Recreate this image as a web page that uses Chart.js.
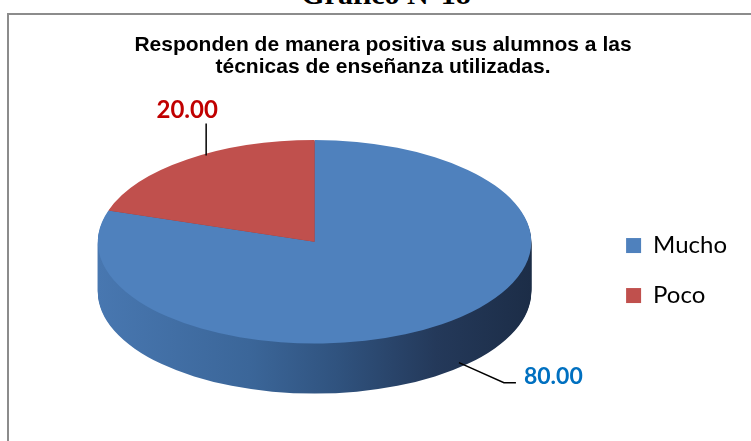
<!DOCTYPE html>
<html lang="es">
<head>
<meta charset="UTF-8">
<title>Gráfico N°18</title>
<script src="https://cdn.jsdelivr.net/npm/chart.js"></script>
<style>
  html, body { margin: 0; padding: 0; background: #fff; overflow: hidden; }
  #page { position: relative; width: 751px; height: 441px; overflow: hidden; }
  #heading { position: absolute; left: 0; width: 772px; top: -21px; text-align: center;
             font: bold 30px/30px "Liberation Serif", "Times New Roman", serif; color: #000; }
  #frame { position: absolute; left: 7px; top: 13px; right: -10px; bottom: -10px;
           border-top: 2px solid #8c8c8c; border-left: 2px solid #8c8c8c; }
  #chart { position: absolute; left: 0; top: 0; }
</style>
</head>
<body>
<div id="page">
  <div id="heading">Gráfico N°18</div>
  <div id="frame"></div>
  <canvas id="chart" width="751" height="441"></canvas>
</div>

<script>
// datos del gráfico
const categories = ['Mucho', 'Poco'];
const values = [80, 20];
const chartTitle = ['Responden de manera positiva sus alumnos a las', 'técnicas de enseñanza utilizadas.'];

// colores
const sliceColors = ['#4f81bd', '#c0504d'];
const sideColors = ['#3a6296', '#8e3a38'];
const labelColors = ['#0070c0', '#c00000'];

// efecto 3D: la elipse es mas ancha que alta, y tiene un grosor
const tilt = 2.13;
const depth = 50;

// el pastel queda centrado en x y pegado arriba del area del grafico
function pieFrame(chart) {
  const arc = chart.getDatasetMeta(0).data[0];
  const r = arc.outerRadius;
  const area = chart.chartArea;
  return { x: arc.x, y: area.top + r, r: r, rx: r * tilt, ox: arc.x, oy: arc.y };
}

const pie3d = {
  id: 'pie3d',
  beforeDatasetsDraw(chart) {
    const ctx = chart.ctx;
    const meta = chart.getDatasetMeta(0);
    const p = pieFrame(chart);
    ctx.save();
    ctx.translate(p.x, p.y);
    ctx.scale(tilt, 1);
    ctx.translate(-p.ox, -p.oy);

    // lateral del cilindro, mas oscuro a la derecha
    const grad = ctx.createLinearGradient(p.ox - p.r, 0, p.ox + p.r, 0);
    grad.addColorStop(0, '#4877b0');
    grad.addColorStop(0.35, '#3b6699');
    grad.addColorStop(0.55, '#30537f');
    grad.addColorStop(0.78, '#24395a');
    grad.addColorStop(1, '#1c2d47');

    for (let i = depth; i > 0; i--) {
      meta.data.forEach((arc, k) => {
        ctx.beginPath();
        ctx.moveTo(arc.x, arc.y + i);
        ctx.arc(arc.x, arc.y + i, arc.outerRadius, arc.startAngle, arc.endAngle);
        ctx.closePath();
        ctx.fillStyle = k === 0 ? grad : sideColors[k];
        ctx.fill();
      });
    }
  },
  afterDatasetsDraw(chart) {
    const ctx = chart.ctx;
    ctx.restore();

    // etiquetas de valores con linea guia
    const meta = chart.getDatasetMeta(0);
    const p = pieFrame(chart);
    ctx.save();
    ctx.strokeStyle = '#000';
    ctx.lineWidth = 1.5;
    meta.data.forEach((arc, k) => {
      const mid = (arc.startAngle + arc.endAngle) / 2;
      const front = Math.sin(mid) > 0;
      const ax = p.x + p.rx * Math.cos(mid);
      const ay = p.y + p.r * Math.sin(mid) + (front ? depth : 0);
      const text = values[k].toFixed(2);
      ctx.fillStyle = labelColors[k];
      ctx.beginPath();
      if (front) {
        ctx.font = 'bold 23px Lato';
        ctx.moveTo(ax + 17, ay - 11.5);
        ctx.lineTo(ax + 62, ay + 8.5);
        ctx.lineTo(ax + 74, ay + 8.5);
        ctx.stroke();
        ctx.textAlign = 'left';
        ctx.textBaseline = 'alphabetic';
        ctx.fillText(text, ax + 82, ay + 9.5);
      } else {
        ctx.font = 'bold 24px Lato';
        ctx.moveTo(ax + 19, ay - 4);
        ctx.lineTo(ax + 19, ay - 36);
        ctx.stroke();
        ctx.textAlign = 'center';
        ctx.textBaseline = 'alphabetic';
        ctx.fillText(text, ax, ay - 42);
      }
    });
    ctx.restore();
  }
};

new Chart(document.getElementById('chart'), {
  type: 'pie',
  data: {
    labels: categories,
    datasets: [{
      data: values,
      backgroundColor: sliceColors,
      borderWidth: 0,
      radius: '78%',
      clip: false
    }]
  },
  options: {
    responsive: false,
    animation: false,
    events: [],
    layout: { padding: { left: 29, right: 14, top: 0, bottom: 40 } },
    plugins: {
      title: {
        display: true,
        text: chartTitle,
        color: '#000',
        font: { family: 'Liberation Sans', size: 21, weight: 'bold', lineHeight: 1.05 },
        padding: { top: 34, bottom: 62 }
      },
      legend: {
        position: 'right',
        fullSize: false,
        labels: {
          boxWidth: 15,
          boxHeight: 15,
          padding: 26,
          color: '#000',
          font: { family: 'Lato', size: 24 }
        }
      },
      tooltip: { enabled: false }
    }
  },
  plugins: [pie3d]
});
</script>
</body>
</html>
